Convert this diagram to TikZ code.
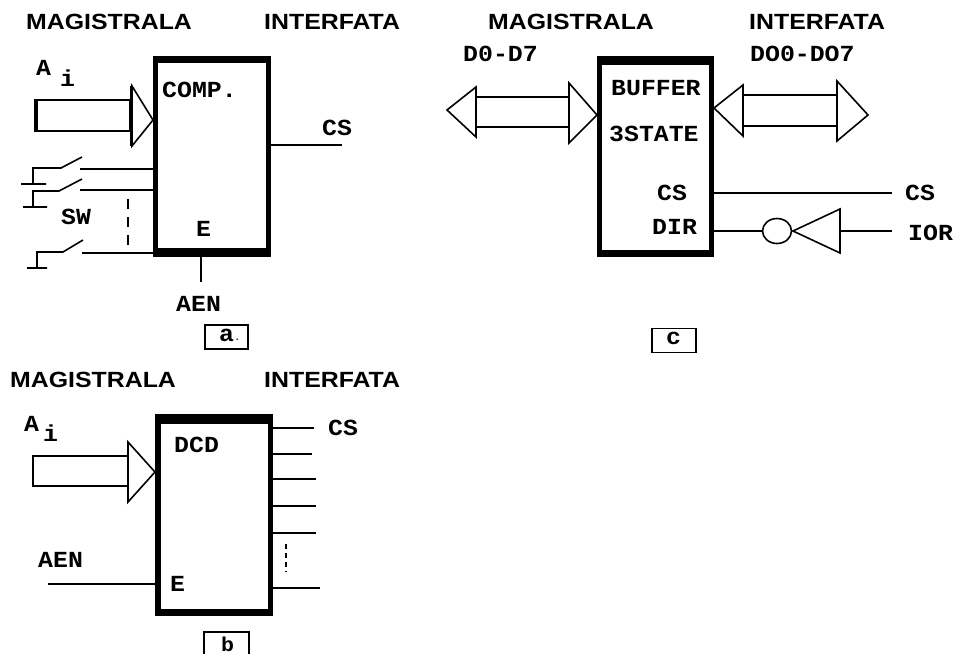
\documentclass[tikz,border=0pt]{standalone}
\usepackage{fontspec}
\usetikzlibrary{shapes.geometric}
\newfontfamily\titlefont[FakeStretch=1.13]{Liberation Sans}
\newfontfamily\labfont[FakeStretch=1.08]{Liberation Mono}
\tikzset{
  wire/.style={draw=black,line width=1.6pt},
  dashwire/.style={wire,dash pattern=on 10pt off 8pt},
  bus/.style={wire,fill=white,line join=miter},
  outerbox/.style={rectangle,fill=black,inner sep=0pt},
  title/.style={anchor=west,inner sep=0pt,font=\titlefont\bfseries\fontsize{22}{22}\selectfont},
  lab/.style={anchor=west,inner sep=0pt,font=\labfont\bfseries\fontsize{23}{23}\selectfont},
  tag/.style={rectangle,draw=black,line width=1.6pt,fill=white,inner sep=0pt},
  inv/.style={ellipse,draw=black,line width=1.6pt,inner sep=0pt,minimum width=29pt,minimum height=25pt}
}
\begin{document}
\begin{tikzpicture}[x=1pt,y=-1pt]
\useasboundingbox (0,0) rectangle (954,654);
% ---------- panel a
\node[title] (t1) at (26,22) {MAGISTRALA};
\node[title] (t2) at (264,22) {INTERFATA};
\node[outerbox,minimum width=118pt,minimum height=201pt] (boxa) at (212,156.2) {};
\fill[white] (158.3,63.3) rectangle (266,248.3);
\node[lab] (ca) at (36,68) {A};
\node[lab] (cai) at (60,78) {i};
\node[lab] (comp) at (162,90) {COMP.};
\node[lab] (csa) at (322,128) {CS};
\node[lab] (ea) at (196,229) {E};
\node[lab] (sw) at (61,217) {SW};
\node[lab] (aena) at (176,304) {AEN};
\node[tag,minimum width=43pt,minimum height=24pt] (taga) at (226.5,337) {};
\node[lab] (la) at (219,335) {a};
\node[lab,font=\labfont\fontsize{10}{10}\selectfont] (lad) at (234,340) {.};
% bus a
\draw[bus] (35,100) rectangle (130,131);
\draw[line width=3pt] (36,100) -- (36,131);
\draw[bus] (132,86) -- (153,120) -- (132,146) -- cycle;
\draw[line width=3pt] (131.5,86) -- (131.5,146);
% switches a
\coordinate (s1) at (80,169);
\coordinate (s2) at (80,190);
\coordinate (s3) at (82,253);
\draw[wire] (s1) -- (s1 -| boxa.west);
\draw[wire] (s2) -- (s2 -| boxa.west);
\draw[wire] (s3) -- (s3 -| boxa.west);
\draw[wire] (21,184) -- (46,184) (33,184) -- (33,168) -- (61,168) -- (82,157);
\draw[wire] (23,207) -- (47,207) (33,207) -- (33,191) -- (59,191) -- (82,179);
\draw[wire] (27,268) -- (47,268) (37,268) -- (37,252) -- (63,252) -- (83,240);
\coordinate (da1) at (128,199);
\coordinate (da2) at (128,245);
\draw[dashwire] (da1) -- (da2);
\coordinate (ocs) at (342,145);
\draw[wire] (ocs -| boxa.east) -- (ocs);
\coordinate (oaen) at (201,282);
\draw[wire] (oaen |- boxa.south) -- (oaen);
% ---------- panel c
\node[title] (t3) at (488,22) {MAGISTRALA};
\node[title] (t4) at (749,22) {INTERFATA};
\node[outerbox,minimum width=117pt,minimum height=201pt] (boxc) at (655.5,156.2) {};
\fill[white] (602,65) rectangle (709,250);
\node[lab] (d1) at (463,54) {D0-D7};
\node[lab] (d2) at (750,54) {DO0-DO7};
\node[lab] (buf) at (611,88) {BUFFER};
\node[lab] (st) at (609,134) {3STATE};
\node[lab] (csc) at (657,193) {CS};
\node[lab] (dir) at (652,227) {DIR};
\node[lab] (csd) at (905,193) {CS};
\node[lab] (ior) at (908,233) {IOR};
\node[tag,minimum width=44pt,minimum height=24pt] (tagc) at (674,340.5) {};
\node[lab] (lc) at (666,338) {c};
% double buses c
\draw[bus] (476,97) rectangle (569,127);
\draw[bus] (476,87) -- (447,110) -- (476,137) -- cycle;
\draw[bus] (569,83) -- (597,115) -- (569,143) -- cycle;
\draw[bus] (743,95) rectangle (837,126);
\draw[bus] (743,85) -- (714,108) -- (743,136) -- cycle;
\draw[bus] (837,81) -- (868,115) -- (837,141) -- cycle;
% control lines c
\coordinate (ocsc) at (892,193);
\draw[wire] (ocsc -| boxc.east) -- (ocsc);
\node[inv] (ninv) at (777,231) {};
\draw[wire] (boxc.east |- ninv.west) -- (ninv.west);
\draw[wire] (793,231) -- (840,209) -- (840,253) -- cycle;
\coordinate (gbase) at (840,231);
\coordinate (oior) at (892,231);
\draw[wire] (gbase) -- (oior);
% ---------- panel b
\node[title] (t5) at (10,380) {MAGISTRALA};
\node[title] (t6) at (264,380) {INTERFATA};
\node[outerbox,minimum width=118pt,minimum height=202pt] (boxb) at (214,515) {};
\fill[white] (161,424) rectangle (268,609);
\node[lab] (cb) at (24,424) {A};
\node[lab] (cbi) at (43,433) {i};
\node[lab] (dcd) at (174,445) {DCD};
\node[lab] (csb) at (328,428) {CS};
\node[lab] (aenb) at (38,560) {AEN};
\node[lab] (eb) at (170,584) {E};
\draw[bus] (33,456) rectangle (128,486);
\draw[bus] (128,442) -- (155,472) -- (128,502) -- cycle;
\foreach \n/\xx/\yy in {o1/314/428,o2/312/454,o3/316/479,o4/316/506,o5/316/533,o6/320/588}{
  \coordinate (\n) at (\xx,\yy);
  \draw[wire] (\n -| boxb.east) -- (\n);
}
\coordinate (db1) at (286,544);
\coordinate (db2) at (286,572);
\draw[wire,dash pattern=on 5pt off 4pt] (db1) -- (db2);
\coordinate (iaen) at (48,584);
\draw[wire] (iaen) -- (iaen -| boxb.west);
\draw[line width=1.6pt] (204,654) -- (204,632) -- (249,632) -- (249,654);
\node[lab,font=\labfont\bfseries\fontsize{20}{20}\selectfont] (lb) at (221,644.5) {b};
\end{tikzpicture}
\end{document}
